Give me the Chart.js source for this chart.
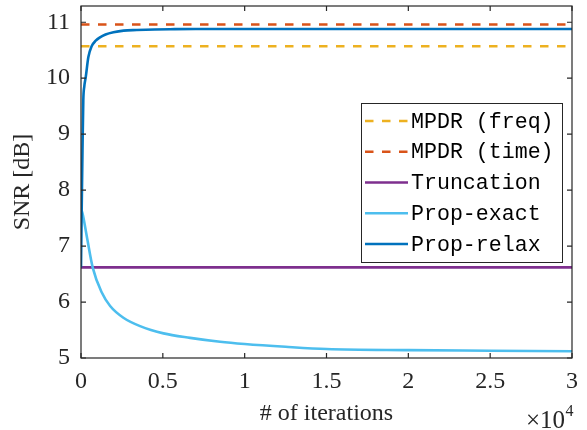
<!DOCTYPE html>
<html>
<head>
<meta charset="utf-8">
<script src="https://cdn.jsdelivr.net/npm/chart.js@4.4.0/dist/chart.umd.min.js"></script>
<style>
  html, body { margin: 0; padding: 0; background: #fff; }
  #snrChart { display: block; }
</style>
</head>
<body>
<canvas id="snrChart" width="587" height="430"></canvas>
<script>
// values
var mpdrFreq = 10.57;
var mpdrTime = 10.96;
var truncation = 6.62;

var relaxIter = [0, 40, 90, 140, 200, 290, 450, 650, 900, 1160, 1500, 1980, 2600, 3410, 4500, 5450, 7000, 8500, 10000, 15000, 20000, 25000, 30000];
var relaxSnr  = [6.62, 7.6, 8.7, 9.6, 9.85, 10.02, 10.38, 10.57, 10.67, 10.73, 10.78, 10.82, 10.85, 10.86, 10.87, 10.875, 10.88, 10.88, 10.88, 10.88, 10.88, 10.88, 10.88];

var exactIter = [0, 80, 350, 720, 1270, 1780, 2590, 3610, 5040, 6670, 8500, 10000, 12500, 15000, 20000, 25000, 30000];
var exactSnr  = [7.65, 7.6, 7.18, 6.61, 6.17, 5.93, 5.72, 5.57, 5.44, 5.36, 5.29, 5.25, 5.2, 5.16, 5.14, 5.13, 5.12];

var xTicks = [0, 5000, 10000, 15000, 20000, 25000, 30000];
var yTicks = [5, 6, 7, 8, 9, 10, 11];

var axisColor = '#262626';
var serif = '"Liberation Serif", "Times New Roman", serif';

function pairs(xs, ys) {
    var out = [];
    for (var i = 0; i < xs.length; i++) out.push({x: xs[i], y: ys[i]});
    return out;
}
function flat(v) {
    return [{x: 0, y: v}, {x: 30000, y: v}];
}

// axes box, inward ticks, x10^4 and legend
var decorations = {
    id: 'decorations',
    afterDatasetsDraw: function(chart) {
        var ctx = chart.ctx, a = chart.chartArea;
        var xs = chart.scales.x, ys = chart.scales.y;
        ctx.save();
        ctx.strokeStyle = axisColor;
        ctx.lineWidth = 1.2;
        ctx.strokeRect(a.left, a.top, a.right - a.left, a.bottom - a.top);
        ctx.beginPath();
        xTicks.forEach(function(t) {
            var px = xs.getPixelForValue(t);
            ctx.moveTo(px, a.bottom); ctx.lineTo(px, a.bottom - 5);
            ctx.moveTo(px, a.top); ctx.lineTo(px, a.top + 5);
        });
        yTicks.forEach(function(t) {
            var py = ys.getPixelForValue(t);
            ctx.moveTo(a.left, py); ctx.lineTo(a.left + 5, py);
            ctx.moveTo(a.right, py); ctx.lineTo(a.right - 5, py);
        });
        ctx.stroke();

        // x10^4 multiplier, right aligned with the axis end
        ctx.fillStyle = axisColor;
        ctx.textBaseline = 'alphabetic';
        ctx.textAlign = 'left';
        ctx.font = '16px ' + serif;
        var wSup = ctx.measureText('4').width;
        ctx.font = '25px ' + serif;
        var wBase = ctx.measureText('\u00d710').width;
        var x0 = 573 - wSup - wBase;
        ctx.fillText('\u00d710', x0, 428);
        ctx.font = '16px ' + serif;
        ctx.fillText('4', x0 + wBase + 0.5, 416);
        ctx.restore();
    },
    afterDraw: function(chart) {
        var ctx = chart.ctx;
        var box = {left: 361, top: 103, right: 563, bottom: 263};
        ctx.save();
        ctx.fillStyle = '#fff';
        ctx.fillRect(box.left, box.top, box.right - box.left, box.bottom - box.top);
        ctx.strokeStyle = axisColor;
        ctx.lineWidth = 1;
        ctx.strokeRect(box.left + 0.5, box.top + 0.5, box.right - box.left - 1, box.bottom - box.top - 1);
        ctx.font = '21.6px "Liberation Mono", "Courier New", monospace';
        ctx.textBaseline = 'middle';
        ctx.textAlign = 'left';
        chart.data.datasets.forEach(function(ds, i) {
            var y = 121 + i * 30.75;
            ctx.beginPath();
            ctx.strokeStyle = ds.borderColor;
            ctx.lineWidth = ds.borderWidth;
            ctx.setLineDash(ds.borderDash || []);
            ctx.moveTo(365, y);
            ctx.lineTo(408, y);
            ctx.stroke();
            ctx.setLineDash([]);
            ctx.fillStyle = '#000';
            ctx.fillText(ds.label, 411, y + 1);
        });
        ctx.restore();
    }
};

var ctx = document.getElementById('snrChart').getContext('2d');
var chart = new Chart(ctx, {
    type: 'line',
    data: {
        datasets: [{
            label: 'MPDR (freq)',
            data: flat(mpdrFreq),
            borderColor: '#EDB120',
            borderWidth: 2.6,
            borderDash: [8.5, 8.5],
            order: 5
        }, {
            label: 'MPDR (time)',
            data: flat(mpdrTime),
            borderColor: '#D95319',
            borderWidth: 2.6,
            borderDash: [8.5, 8.5],
            order: 4
        }, {
            label: 'Truncation',
            data: flat(truncation),
            borderColor: '#7E2F8E',
            borderWidth: 2.6,
            order: 3
        }, {
            label: 'Prop-exact',
            data: pairs(exactIter, exactSnr),
            borderColor: '#4DBEEE',
            borderWidth: 2.6,
            cubicInterpolationMode: 'monotone',
            order: 2
        }, {
            label: 'Prop-relax',
            data: pairs(relaxIter, relaxSnr),
            borderColor: '#0072BD',
            borderWidth: 2.6,
            cubicInterpolationMode: 'monotone',
            order: 1
        }]
    },
    options: {
        responsive: false,
        animation: false,
        devicePixelRatio: 1,
        elements: { point: { radius: 0 } },
        layout: { padding: { top: 6, right: 15, left: 0, bottom: 0 } },
        plugins: { legend: { display: false }, tooltip: { enabled: false } },
        scales: {
            x: {
                type: 'linear',
                min: 0,
                max: 30000,
                border: { display: false },
                grid: { display: false, drawTicks: false },
                afterFit: function(s) { s.height = 72; s.paddingLeft = 0; s.paddingRight = 0; },
                afterBuildTicks: function(s) { s.ticks = xTicks.map(function(v) { return {value: v}; }); },
                ticks: {
                    autoSkip: false,
                    maxRotation: 0,
                    padding: 9,
                    color: axisColor,
                    font: { family: serif, size: 24 },
                    callback: function(v) { return String(v / 10000); }
                },
                title: {
                    display: true,
                    text: '# of iterations',
                    color: axisColor,
                    font: { family: serif, size: 24 },
                    padding: { top: 0, bottom: 2 }
                }
            },
            y: {
                min: 5,
                max: 11.29,
                border: { display: false },
                grid: { display: false, drawTicks: false },
                afterFit: function(s) { s.width = 81; s.paddingTop = 0; s.paddingBottom = 0; },
                afterBuildTicks: function(s) { s.ticks = yTicks.map(function(v) { return {value: v}; }); },
                ticks: {
                    padding: 11,
                    color: axisColor,
                    font: { family: serif, size: 24 }
                },
                title: {
                    display: true,
                    text: 'SNR [dB]',
                    color: axisColor,
                    font: { family: serif, size: 24 },
                    padding: { top: 8, bottom: 0 }
                }
            }
        }
    },
    plugins: [decorations]
});
</script>
</body>
</html>
